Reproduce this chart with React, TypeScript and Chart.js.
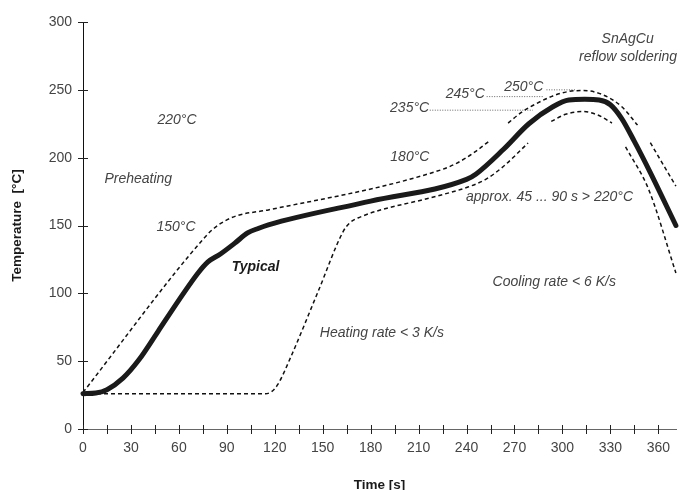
import React, { useEffect, useRef } from "react";
import { Chart, registerables } from "chart.js";

Chart.register(...registerables);

// ---- Data (time in s, temperature in °C) ----
const typicalTime = [0, 8, 15, 25, 35, 47, 60, 72, 78, 86, 95, 103, 110, 116, 180, 240, 246, 263, 279, 294, 304, 314, 323, 330, 337, 345, 355, 371];
const typicalTemp = [26, 26.5, 29, 37.5, 51, 72, 95, 115, 123, 129, 137, 144.5, 148, 150.5, 168, 184, 188, 206, 225, 237.5, 242.5, 243, 242.5, 239, 229, 212, 189, 150];

const upperTime = [0, 76, 82, 89, 97, 116, 224, 234, 245, 255, 260, 266, 275, 284, 294, 304, 313, 325, 337, 347, 351, 355, 363, 371];
const upperTemp = [27, 141, 148, 153.5, 157.5, 161.5, 191, 196, 204, 213, null, 225.5, 234, 240, 245.5, 248.8, 249.5, 246.5, 237.7, 224, null, 211, 195, 179];

const lowerTime = [0, 114, 118, 122, 130, 147, 163, 167, 172, 221, 240, 252, 263, 278.5, 286, 293, 302, 312.5, 322, 331, 335, 339.5, 354, 371];
const lowerTemp = [26, 26, 27.5, 33, 53, 101, 146, 152, 155.5, 171.5, 178, 184, 193.5, 210.8, null, 226.7, 232, 234, 231.5, 225.5, null, 208, 176.4, 115];

const lead235Time = [217, 281.5];
const lead235Temp = [235, 235];
const lead245Time = [252.6, 288];
const lead245Temp = [245, 245];
const lead250Time = [290, 308];
const lead250Temp = [250, 250];

const xMin = 0;
const xMax = 371.2;
const xStep = 15;
const xLabelEvery = 30;
const yMin = 0;
const yMax = 300;
const yStep = 50;

const xTitle = "Time [s]";
const yTitle = "Temperature  [°C]";

type Note = { text: string; t: number; T: number; align: CanvasTextAlign; bold?: boolean };
const notes: Note[] = [
  { text: "220°C", t: 58.8, T: 228, align: "center" },
  { text: "Preheating", t: 34.6, T: 184.5, align: "center" },
  { text: "150°C", t: 58.2, T: 149, align: "center" },
  { text: "Typical", t: 108, T: 119.6, align: "center", bold: true },
  { text: "Heating rate < 3 K/s", t: 148.2, T: 71, align: "left" },
  { text: "Cooling rate < 6 K/s", t: 256.3, T: 108.5, align: "left" },
  { text: "180°C", t: 192.3, T: 200.7, align: "left" },
  { text: "approx. 45 ... 90 s > 220°C", t: 239.6, T: 171.2, align: "left" },
  { text: "235°C", t: 216.6, T: 236.7, align: "right" },
  { text: "245°C", t: 251.4, T: 247, align: "right" },
  { text: "250°C", t: 288, T: 252, align: "right" },
  { text: "SnAgCu", t: 340.8, T: 287.6, align: "center" },
  { text: "reflow soldering", t: 310.4, T: 274.3, align: "left" },
];

const FONT = "'Liberation Sans', Arial, Helvetica, sans-serif";

const pts = (xs: number[], ys: (number | null)[]) => xs.map((x, i) => ({ x, y: ys[i] }));

export default function App() {
  const ref = useRef<HTMLCanvasElement>(null);

  useEffect(() => {
    const canvas = ref.current;
    if (!canvas) return;

    const crossTicks = {
      id: "crossTicks",
      afterDraw(chart: any) {
        const { ctx, chartArea, scales } = chart;
        const xs = scales.x;
        const ys = scales.y;
        ctx.save();
        ctx.lineWidth = 1;
        ctx.strokeStyle = "#222";
        ctx.beginPath();
        ys.ticks.forEach((tk: any) => {
          const py = Math.round(ys.getPixelForValue(tk.value)) + 0.5;
          ctx.moveTo(chartArea.left - 5, py);
          ctx.lineTo(chartArea.left + 5, py);
        });
        xs.ticks.forEach((tk: any) => {
          const px = Math.round(xs.getPixelForValue(tk.value)) + 0.5;
          ctx.moveTo(px, chartArea.bottom - 4);
          ctx.lineTo(px, chartArea.bottom + 5);
        });
        ctx.stroke();
        ctx.restore();
      },
    };

    const noteText = {
      id: "noteText",
      afterDatasetsDraw(chart: any) {
        const { ctx, scales } = chart;
        ctx.save();
        ctx.textBaseline = "middle";
        notes.forEach((n) => {
          ctx.font = `italic ${n.bold ? "bold " : ""}14px ${FONT}`;
          ctx.fillStyle = n.bold ? "#1a1a1a" : "#444";
          ctx.textAlign = n.align;
          ctx.fillText(n.text, scales.x.getPixelForValue(n.t), scales.y.getPixelForValue(n.T));
        });
        ctx.restore();
      },
    };

    const dashed = {
      borderColor: "#111",
      borderWidth: 1.5,
      borderDash: [4, 3],
      pointRadius: 0,
      cubicInterpolationMode: "monotone" as const,
      spanGaps: false,
      clip: false as any,
    };
    const dotted = {
      borderColor: "#666",
      borderWidth: 1,
      borderDash: [1, 1.5],
      pointRadius: 0,
      tension: 0,
    };

    const chart = new Chart(canvas, {
      type: "line",
      data: {
        datasets: [
          {
            label: "Typical",
            data: pts(typicalTime, typicalTemp),
            borderColor: "#1a1a1a",
            borderWidth: 5,
            pointRadius: 0,
            cubicInterpolationMode: "monotone",
            borderCapStyle: "round",
            borderJoinStyle: "round",
            clip: false as any,
          },
          { label: "Upper", data: pts(upperTime, upperTemp), ...dashed },
          { label: "Lower", data: pts(lowerTime, lowerTemp), ...dashed },
          { label: "L235", data: pts(lead235Time, lead235Temp), ...dotted },
          { label: "L245", data: pts(lead245Time, lead245Temp), ...dotted },
          { label: "L250", data: pts(lead250Time, lead250Temp), ...dotted },
        ] as any,
      },
      options: {
        animation: false,
        responsive: false,
        maintainAspectRatio: false,
        devicePixelRatio: 1,
        layout: { padding: { top: 22, right: 0, left: 0, bottom: 0 } },
        plugins: {
          legend: { display: false },
          tooltip: { enabled: false },
        },
        scales: {
          x: {
            type: "linear",
            min: xMin,
            max: xMax,
            grid: { display: false, drawTicks: false },
            border: { display: true, color: "#666", width: 1 },
            ticks: {
              stepSize: xStep,
              includeBounds: false,
              autoSkip: false,
              maxRotation: 0,
              padding: 11,
              color: "#444",
              font: { family: FONT, size: 14 },
              callback: (v: any) => (Number(v) % xLabelEvery === 0 ? String(v) : ""),
            },
            title: {
              display: true,
              text: xTitle,
              color: "#1a1a1a",
              font: { family: FONT, size: 13.5, weight: "bold" },
              padding: { top: 0, bottom: -3 },
            },
            afterFit: (s: any) => {
              s.height = 61;
            },
          },
          y: {
            type: "linear",
            min: yMin,
            max: yMax,
            grid: { display: false, drawTicks: false },
            border: { display: true, color: "#111", width: 1 },
            ticks: {
              stepSize: yStep,
              padding: 11,
              color: "#444",
              font: { family: FONT, size: 14 },
            },
            title: {
              display: true,
              text: yTitle,
              color: "#1a1a1a",
              font: { family: FONT, size: 13.5, weight: "bold" },
              padding: { top: 9, bottom: 0 },
            },
            afterFit: (s: any) => {
              s.width = 83;
            },
          },
        },
      } as any,
      plugins: [crossTicks, noteText],
    });

    return () => chart.destroy();
  }, []);

  return (
    <div style={{ position: "fixed", left: 0, top: 0, width: 681, height: 490, background: "#fff", overflow: "hidden" }}>
      <canvas ref={ref} width={681} height={490} style={{ display: "block" }} />
    </div>
  );
}
